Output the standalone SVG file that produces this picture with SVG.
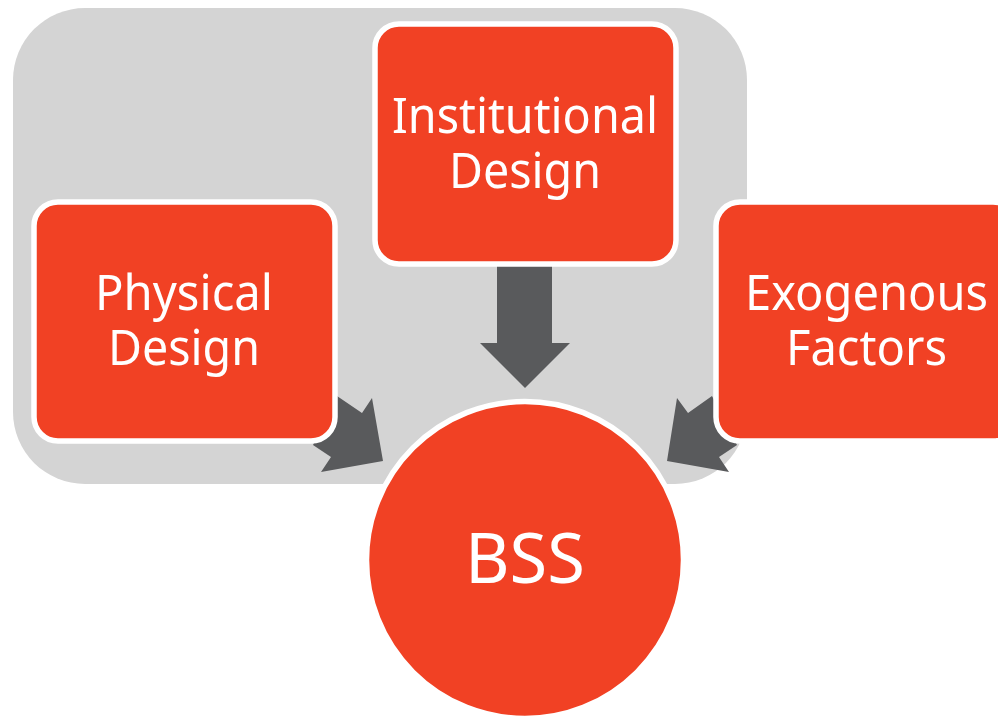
<svg xmlns="http://www.w3.org/2000/svg" width="998" height="716" viewBox="0 0 998 716">
<style>
.n{fill:#f14124;stroke:#fff;stroke-width:5.5}
.t{font-family:"Noto Sans","DejaVu Sans",sans-serif;fill:#fff;text-anchor:middle;font-size:50px}
.a{fill:#595a5c}
</style>
<rect width="998" height="716" fill="#fff"/>
<rect id="bg" x="13" y="8" width="734" height="476" rx="72" fill="#d4d4d4"/>
<g id="connectors">
<path class="a" d="M497 262H552V343H570L525 388L480 343H497Z"/>
<path class="a" d="M337 396L362 413L372 398L383 461L321 472L331 457L313 445Z"/>
<path class="a" d="M712 396L688 413L677 398L667 461L729 472L719 457L737 445Z"/>
</g>
<g id="institutional"><rect class="n" x="375" y="24" width="301" height="240" rx="24"/>
<text class="t" x="525" y="133" textLength="266" lengthAdjust="spacingAndGlyphs">Institutional</text><text class="t" x="525" y="188" textLength="152" lengthAdjust="spacingAndGlyphs">Design</text></g>
<g id="physical"><rect class="n" x="34" y="202" width="301" height="239" rx="24"/>
<text class="t" x="184" y="310" textLength="178" lengthAdjust="spacingAndGlyphs">Physical</text><text class="t" x="184" y="365" textLength="152" lengthAdjust="spacingAndGlyphs">Design</text></g>
<g id="exogenous"><rect class="n" x="716" y="202" width="301" height="239" rx="24"/>
<text class="t" x="866.500" y="310" textLength="243" lengthAdjust="spacingAndGlyphs">Exogenous</text><text class="t" x="866.500" y="365" textLength="161" lengthAdjust="spacingAndGlyphs">Factors</text></g>
<g id="bss"><circle class="n" cx="525" cy="560" r="158.500"/>
<text class="t" x="525" y="583" style="font-size:70px" textLength="120" lengthAdjust="spacingAndGlyphs">BSS</text></g>
</svg>
